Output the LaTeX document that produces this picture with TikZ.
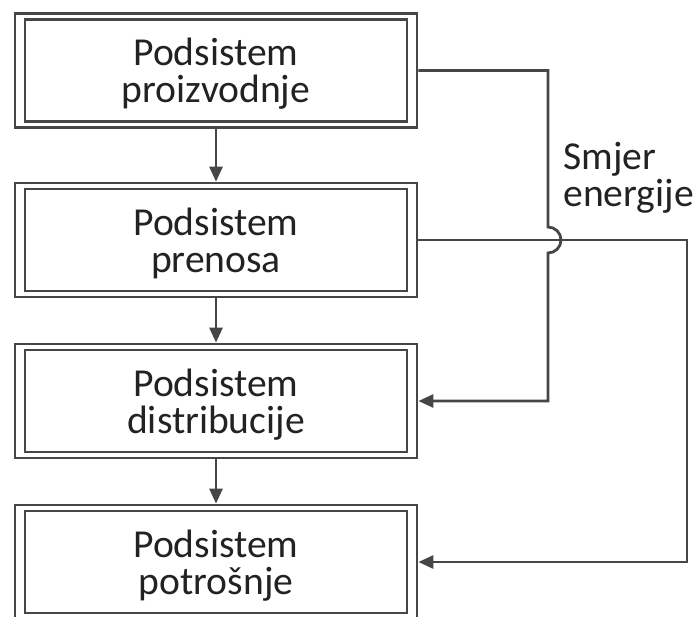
\documentclass[tikz,border=0pt]{standalone}
\usepackage{fontspec}
\setmainfont{Carlito}
\usetikzlibrary{arrows.meta}
\definecolor{linegray}{HTML}{464646}
\definecolor{textgray}{HTML}{222222}
\newcommand\boxX{216}
\newcommand\railA{548}
\newcommand\railB{687}
\newcommand\hopR{6.5pt}

\begin{document}
\begin{tikzpicture}[x=0.5pt,y=-0.5pt,
    every node/.style={font=\fontsize{19.8}{18.5}\selectfont, text=textgray},
    subsys/.style={draw=linegray, line width=1.4pt, fill=white, minimum width=201pt, minimum height=57pt,
      align=center, inner sep=0pt, text depth=0pt,
      path picture={\draw[linegray, line width=1.4pt]
        ([shift={(5pt,-3pt)}]path picture bounding box.north west) rectangle
        ([shift={(-5pt,3pt)}]path picture bounding box.south east);}},
    flow/.style={draw=linegray, line width=1.4pt, -{Triangle[length=7.5pt,width=6.5pt]}}]

    \useasboundingbox (0,0) rectangle (699,616);

    % the four subsystems
    \node[subsys] (proizv) at (\boxX,70.5) {Podsistem\\proizvodnje};
    \node[subsys] (prenos) at (\boxX,240) {Podsistem\\prenosa};
    \node[subsys] (distr) at (\boxX,401) {Podsistem\\distribucije};
    \node[subsys] (potr) at (\boxX,562) {Podsistem\\potrošnje};

    \foreach \a/\b in {proizv/prenos, prenos/distr, distr/potr}
      \draw[flow] (\a) -- (\b);

    % side lines
    \coordinate (hop) at (\railA,240);
    \coordinate (rail) at (\railB,0);

    \draw[flow] (proizv.east) -| ([yshift=\hopR]hop) arc[start angle=90, end angle=-90, radius=\hopR] |- (distr.east);
    \draw[flow] (prenos.east) -- (prenos.east -| rail) |- (potr.east);

    \node[anchor=north west, align=left, inner sep=0pt] (smjer) at (563,142) {Smjer\\energije};

\end{tikzpicture}
\end{document}
